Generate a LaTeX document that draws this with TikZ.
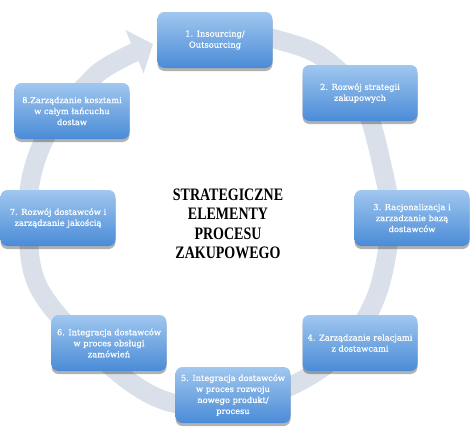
\documentclass[tikz,border=0pt]{standalone}
\usepackage{fontspec}
\setmainfont{DejaVu Serif}
\newfontfamily\boxfont[FakeBold=0.6]{DejaVu Serif}
\newfontfamily\titlefont[FakeStretch=0.8]{Liberation Serif}
\usetikzlibrary{arrows.meta,shadows}
\definecolor{boxtop}{RGB}{160,199,239}
\definecolor{boxbottom}{RGB}{74,139,215}
\definecolor{ringgray}{RGB}{218,224,233}

\begin{document}
\begin{tikzpicture}[x=1pt,y=-1pt,
    stage/.style={rounded corners=7pt, minimum width=115pt, minimum height=56pt,
        top color=boxtop, bottom color=boxbottom, text=white, align=center,
        font=\boxfont\fontsize{8.3}{11}\selectfont,
        drop shadow={shadow xshift=0pt, shadow yshift=-3pt, opacity=0.3, fill=black}}]
    \useasboundingbox (0,0) rectangle (474,442);

    % Ring with arrow
    \draw[ringgray, line width=19pt, -{Triangle[length=20pt,width=46pt]}]
        plot[smooth, tension=0.6] coordinates {(245,33) (275,39) (322,57) (362,100)
        (383,170) (390,225) (376,297) (342,350) (297,383) (233,405) (163,400)
        (100,357) (40,290) (28,225) (33,170) (55,120) (88,83) (105,68) (133,53) (153,44)};

    % Stage 1: Insourcing
    \node[stage] (stage1) at (215,40) {1. Insourcing/\\Outsourcing};
    % Stage 2: strategy
    \node[stage] (stage2) at (360,93) {2. Rozwój strategii\\zakupowych};
    % Stage 3: supplier base
    \node[stage] (stage3) at (412,218) {3. Racjonalizacja i\\zarzadzanie bazą\\dostawców};
    % Stage 4: relations
    \node[stage] (stage4) at (360,343) {4. Zarządzanie relacjami\\z dostawcami};
    % Stage 5: product development
    \node[stage] (stage5) at (233,395) {5. Integracja dostawców\\w proces rozwoju\\nowego produkt/\\procesu};
    % Stage 6: order handling
    \node[stage] (stage6) at (109,343) {6. Integracja dostawców\\w proces obsługi\\zamówień};
    % Stage 7: quality
    \node[stage] (stage7) at (58,218) {7. Rozwój dostawców i\\zarządzanie jakością};
    % Stage 8: costs
    \node[stage] (stage8) at (72,111) {8.Zarządzanie kosztami\\w całym łańcuchu\\dostaw};

    \node[align=center, font=\titlefont\bfseries\fontsize{17.5}{19.5}\selectfont] (title) at (228,224)
        {STRATEGICZNE\\ELEMENTY\\PROCESU\\ZAKUPOWEGO};
\end{tikzpicture}
\end{document}
